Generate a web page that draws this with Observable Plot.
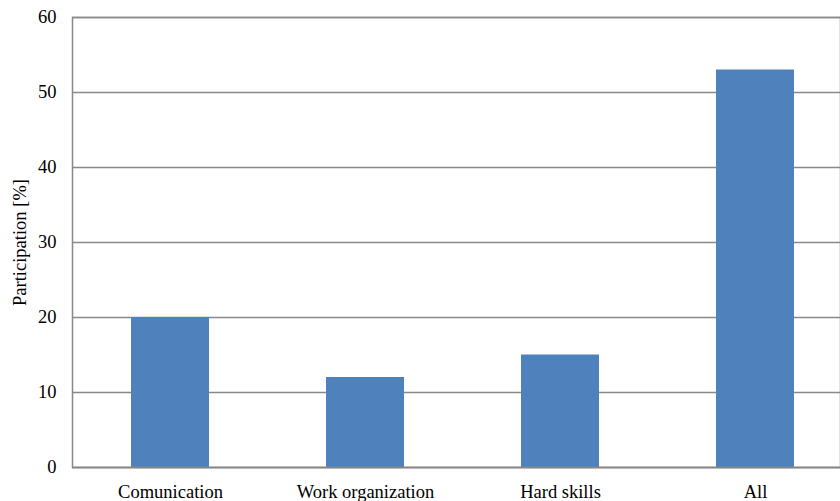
<!DOCTYPE html>
<html>
<head>
<meta charset="utf-8">
<script src="https://cdn.jsdelivr.net/npm/d3@7"></script>
<script src="https://cdn.jsdelivr.net/npm/@observablehq/plot@0.6"></script>
<style>
  html, body { margin: 0; padding: 0; background: #fff; }
  #chart svg { overflow: hidden; display: block; }
</style>
</head>
<body>
<div id="chart"></div>
<script>
const categories = ["Comunication", "Work organization", "Hard skills", "All"];
const values = [20, 12, 15, 53];
const yTicks = [0, 10, 20, 30, 40, 50, 60];

const data = categories.map((c, i) => ({category: c, value: values[i]}));

const chart = Plot.plot({
  width: 840,
  height: 501,
  marginLeft: 72,
  marginTop: 17,
  marginBottom: 34,
  marginRight: 0,
  style: {fontFamily: "'Liberation Serif', 'Times New Roman', serif", fontSize: "18.5px", color: "#000", background: "#fff"},
  x: {domain: categories, range: [72, 852], paddingInner: 0.6, paddingOuter: 0.3, label: null},
  y: {domain: [0, 60], ticks: yTicks, label: "Participation [%]"},
  marks: [
    Plot.ruleY(yTicks, {stroke: "#898989", strokeWidth: 1.5}),
    Plot.barY(data, {x: "category", y: "value", fill: "#4F81BD"}),
    Plot.ruleY([0], {stroke: "#898989", strokeWidth: 1.5}),
    Plot.axisX({tickSize: 0, tickPadding: 17, fontSize: 18.5, label: null}),
    Plot.axisY({ticks: yTicks, tickSize: 0, tickPadding: 16, fontSize: 18.5, label: "Participation [%]", labelAnchor: "center", labelOffset: 60, labelArrow: "none"}),
    Plot.frame({stroke: "#898989", strokeWidth: 1.5})
  ]
});
document.getElementById("chart").appendChild(chart);
</script>
</body>
</html>
